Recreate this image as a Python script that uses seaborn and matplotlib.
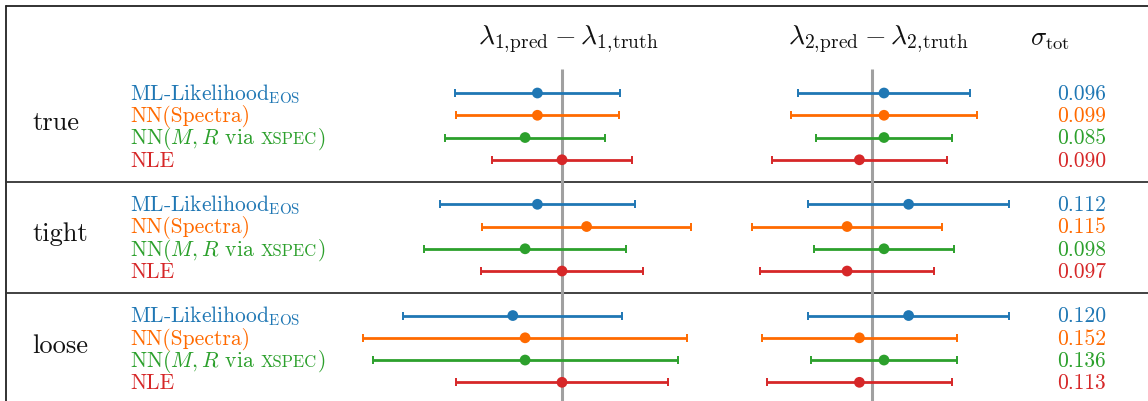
import numpy as np
import pandas as pd
import matplotlib
matplotlib.use("Agg")
import matplotlib.pyplot as plt
import seaborn as sns

# ---- data ----
priors = ["true", "tight", "loose"]
methods = ["ML-Likelihood$_{\\mathrm{EOS}}$", "NN(Spectra)", "NN($M, R$ via", "NLE"]
colors = ["#1f77b4", "#ff6a00", "#2ca02c", "#d62728"]

lam1_bias = [-0.02, -0.02, -0.03, 0.00,
             -0.02, 0.02, -0.03, 0.00,
             -0.04, -0.03, -0.03, 0.00]
lam1_err = [0.067, 0.066, 0.065, 0.057,
            0.079, 0.085, 0.082, 0.066,
            0.089, 0.132, 0.124, 0.086]
lam2_bias = [0.01, 0.01, 0.01, -0.01,
             0.03, -0.02, 0.01, -0.02,
             0.03, -0.01, 0.01, -0.01]
lam2_err = [0.070, 0.076, 0.055, 0.071,
            0.082, 0.077, 0.057, 0.071,
            0.082, 0.079, 0.059, 0.075]
sigma_tot = ["0.096", "0.099", "0.085", "0.090",
             "0.112", "0.115", "0.098", "0.097",
             "0.120", "0.152", "0.136", "0.113"]

sns.set_theme(style="white")
plt.rcParams['font.family'] = ['cmr10', 'DejaVu Serif']
plt.rcParams['mathtext.fontset'] = 'cm'
plt.rcParams['axes.formatter.use_mathtext'] = True

n_m = len(methods)
gap = n_m + 1
rows = [g * gap + i for g in range(len(priors)) for i in range(n_m)]
df = pd.DataFrame({
    'prior': np.repeat(priors, n_m),
    'method': methods * len(priors),
    'row': rows,
    'lam1': lam1_bias, 'lam1_err': lam1_err,
    'lam2': lam2_bias, 'lam2_err': lam2_err,
    'sigma': sigma_tot,
})

W, H = 1148, 401
fig = plt.figure(figsize=(W / 100, H / 100), dpi=100)
ylim = (13.84, -4.18)
px_per_unit = 1230.0

ax0 = fig.add_axes([0, 0, 1, 1])
ax0.set_xlim(0, 1)
ax0.set_ylim(*ylim)
ax0.axis('off')

# table frame
x_left = 6 / W
y_top = -3.9
ax0.plot([x_left, 1], [y_top, y_top], color='#222222', lw=1.3, clip_on=False)
ax0.plot([x_left, x_left], [y_top, ylim[0]], color='#222222', lw=1.3, clip_on=False)
for g in range(1, len(priors)):
    ysep = g * gap - 1
    ax0.plot([x_left, 1], [ysep, ysep], color='#333333', lw=1.3)

label_fs = 15.5
for g, prior in enumerate(priors):
    ax0.text(32 / W, g * gap + (n_m - 1) / 2 + 0.17, prior, fontsize=19,
             va='baseline', ha='left', color='#111111')

for _, r in df.iterrows():
    i = methods.index(r['method'])
    c = colors[i]
    t = ax0.text(130 / W, r['row'] + 0.31, r['method'], fontsize=label_fs,
                 va='baseline', ha='left', color=c)
    if i == 2:
        t2 = ax0.annotate("XSPEC", xy=(1, r['row'] + 0.31), xycoords=(t, 'data'),
                          xytext=(4.5, 0), textcoords='offset points',
                          fontsize=12, va='baseline', ha='left', color=c)
        ax0.annotate(")", xy=(1, r['row'] + 0.31), xycoords=(t2, 'data'),
                     xytext=(0.5, 0), textcoords='offset points',
                     fontsize=label_fs, va='baseline', ha='left', color=c)
    ax0.text(1057 / W, r['row'] + 0.31, r['sigma'], fontsize=label_fs,
             va='baseline', ha='left', color=c)

ax0.text(1050 / W, -2.15, r"$\sigma_{\mathrm{tot}}$", fontsize=19,
         va='baseline', ha='center', color='#111111')

# ---- forest panels ----
half = 210
panels = [(562, 'lam1', r"$\lambda_{1,\!\mathrm{pred}} - \lambda_{1,\!\mathrm{truth}}$"),
          (871.7, 'lam2', r"$\lambda_{2,\!\mathrm{pred}} - \lambda_{2,\!\mathrm{truth}}$")]
for zero_px, col, title in panels:
    ax = fig.add_axes([(zero_px - half) / W, 0, 2 * half / W, 1])
    ax.patch.set_alpha(0)
    ax.vlines(0, -1.1, ylim[0] + 1, color='#a0a0a0', lw=2.2, zorder=1)
    for i, m in enumerate(methods):
        sub = df[df['method'] == m]
        ax.errorbar(sub[col], sub['row'], xerr=sub[col + '_err'], fmt='none',
                    ecolor=colors[i], elinewidth=2.0, capsize=3, capthick=1.4,
                    zorder=2)
    sns.scatterplot(data=df, x=col, y='row', hue='method', palette=colors,
                    hue_order=methods, s=60, linewidth=0, legend=False,
                    ax=ax, zorder=3)
    ax.set_xlim(-half / px_per_unit, half / px_per_unit)
    ax.set_ylim(*ylim)
    ax.text(0.005, -2.2, title, fontsize=20, va='baseline', ha='center',
            color='#111111')
    ax.axis('off')

plt.savefig('out.png', dpi=100)
